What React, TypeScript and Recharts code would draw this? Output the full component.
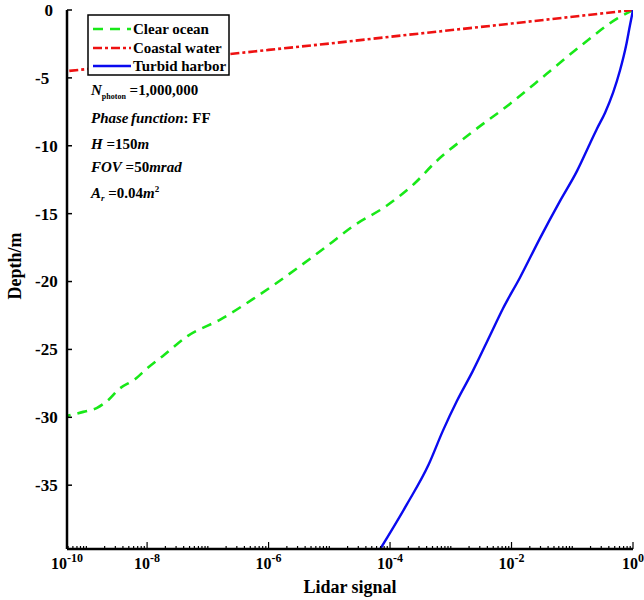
import React from "react";
import { LineChart, Line, XAxis, YAxis } from "recharts";

// depth (m) vs lidar signal
const clearDepth = [0, -0.6, -2.5, -4.7, -6.9, -9.1, -11.2, -12.8, -14.4, -15.9, -17.4, -19.0, -21.3, -22.8, -24.0, -25.5, -26.4, -27.2, -27.9, -28.8, -29.3, -29.6, -29.9];
const clearSignal = [1, 0.562, 0.151, 0.038, 9.5e-3, 2.1e-3, 5.6e-4, 2.5e-4, 8.9e-5, 2.5e-5, 9.1e-6, 3.0e-6, 5.5e-7, 1.6e-7, 4.7e-8, 1.8e-8, 1.0e-8, 6.3e-9, 3.5e-9, 2.2e-9, 1.5e-9, 8.9e-10, 4.8e-10];

const coastalDepth = [0, -1.0, -1.97, -2.47, -2.94, -3.9, -4.5];
const coastalSignal = [1, 1e-2, 1e-4, 1.0e-5, 1e-6, 1e-8, 4.8e-10];

const turbidDepth = [0, -1.14, -2.62, -4.46, -6.09, -7.56, -8.75, -9.85, -11.85, -14.06, -16.8, -19.7, -22.0, -23.9, -26.6, -28.8, -31.0, -33.5, -36.4, -39.7];
const turbidSignal = [1, 0.89, 0.77, 0.61, 0.47, 0.347, 0.255, 0.195, 0.12, 0.063, 0.0295, 0.0138, 7.2e-3, 4.5e-3, 2.3e-3, 1.26e-3, 7.4e-4, 4.3e-4, 1.9e-4, 6.9e-5];

const xMajor = [4.8e-10, 1e-8, 1e-6, 1e-4, 1e-2, 1];
const xLabels = ["-10", "-8", "-6", "-4", "-2", "0"];
const yTicks = [0, -5, -10, -15, -20, -25, -30, -35];

const X_MIN = 4.8e-10;
const Y_MIN = -39.7;
const FONT = '"Liberation Serif", "Times New Roman", serif';

const series = [
  { name: "Clear ocean", color: "#18e818", dash: "10 7", width: 2.6, curve: "monotone", depth: clearDepth, signal: clearSignal },
  { name: "Coastal water", color: "#ee1111", dash: "9 3 3 3", width: 2.6, curve: "linear", depth: coastalDepth, signal: coastalSignal },
  { name: "Turbid harbor", color: "#0a0aef", dash: undefined, width: 2.4, curve: "monotone", depth: turbidDepth, signal: turbidSignal },
];

const xMinor: number[] = [];
for (let k = -10; k < 0; k++) {
  for (let m = 1; m < 10; m++) {
    const v = m * Math.pow(10, k);
    if (v > X_MIN && !xMajor.includes(v)) xMinor.push(v);
  }
}
const xTicks = [...xMajor, ...xMinor].sort((a, b) => a - b);

const BottomTick = (props: any) => {
  const { x, y, payload } = props;
  const idx = xMajor.indexOf(payload.value);
  const major = idx >= 0;
  return (
    <g>
      <line x1={x} x2={x} y1={y} y2={y - (major ? 7 : 3)} stroke="#000" strokeWidth={1.2} />
      {major && (
        <text x={x} y={y + 20} textAnchor="middle" fontFamily={FONT} fontWeight="bold" fontSize={16} fill="#000">
          <tspan>10</tspan>
          <tspan dy={-7} fontSize={12}>{xLabels[idx]}</tspan>
        </text>
      )}
    </g>
  );
};

const TopTick = (props: any) => {
  const { x, y, payload } = props;
  const major = xMajor.includes(payload.value);
  return <line x1={x} x2={x} y1={y} y2={y + (major ? 6 : 3)} stroke="#000" strokeWidth={1.2} />;
};

const LeftTick = (props: any) => {
  const { x, y, payload } = props;
  const zero = payload.value === 0;
  return (
    <g>
      <line x1={x} x2={x + 5} y1={y} y2={y} stroke="#000" strokeWidth={1.5} />
      <text
        x={zero ? x - 14 : x - 32}
        y={y}
        dy="0.35em"
        textAnchor={zero ? "end" : "start"}
        fontFamily={FONT}
        fontWeight="bold"
        fontSize={17}
        fill="#000"
      >
        {payload.value}
      </text>
    </g>
  );
};

const RightTick = (props: any) => {
  const { x, y } = props;
  return <line x1={x} x2={x - 5} y1={y} y2={y} stroke="#000" strokeWidth={1.5} />;
};

function Overlay() {
  const rows = [29, 48, 66];
  return (
    <svg width={644} height={600} style={{ position: "absolute", left: 0, top: 0, pointerEvents: "none" }}>
      <rect x={88} y={15} width={141} height={60} fill="#fff" stroke="#000" strokeWidth={1.5} />
      {series.map((s, i) => (
        <g key={s.name}>
          <line x1={93} x2={131} y1={rows[i]} y2={rows[i]} stroke={s.color} strokeWidth={2.4} strokeDasharray={s.dash} />
          <text x={133} y={rows[i]} dy="0.35em" fontFamily={FONT} fontWeight="bold" fontSize={15} fill="#000">
            {s.name}
          </text>
        </g>
      ))}

      <g fontFamily={FONT} fontWeight="bold" fontSize={15} fill="#000">
        <text x={91} y={95}>
          <tspan fontStyle="italic">N</tspan>
          <tspan fontSize={8} dy={4}>photon</tspan>
          <tspan dy={-4}> =1,000,000</tspan>
        </text>
        <text x={91} y={123}>
          <tspan fontStyle="italic">Phase</tspan>
          <tspan fontStyle="italic" x={131}>function</tspan>
          <tspan>:  FF</tspan>
        </text>
        <text x={91} y={149}>
          <tspan fontStyle="italic">H</tspan>
          <tspan> =150</tspan>
          <tspan fontStyle="italic">m</tspan>
        </text>
        <text x={91} y={172}>
          <tspan fontStyle="italic">FOV</tspan>
          <tspan> =50</tspan>
          <tspan fontStyle="italic">mrad</tspan>
        </text>
        <text x={91} y={198}>
          <tspan fontStyle="italic">A</tspan>
          <tspan fontStyle="italic" fontSize={9} dy={3}>r</tspan>
          <tspan dy={-3}> =0.04</tspan>
          <tspan fontStyle="italic">m</tspan>
          <tspan fontSize={9} dy={-6}>2</tspan>
        </text>
      </g>

      <text
        x={15}
        y={266}
        transform="rotate(-90 15 266)"
        textAnchor="middle"
        dy="0.35em"
        fontFamily={FONT}
        fontWeight="bold"
        fontSize={18}
        fill="#000"
      >
        Depth/m
      </text>
      <text x={350} y={587} textAnchor="middle" dy="0.35em" fontFamily={FONT} fontWeight="bold" fontSize={18} fill="#000">
        Lidar signal
      </text>
    </svg>
  );
}

export default function App() {
  return (
    <div style={{ position: "absolute", left: 0, top: 0, width: 644, height: 600, background: "#fff" }}>
      <LineChart width={644} height={600} margin={{ top: 10, right: 11, bottom: 21, left: 7 }}>
        <XAxis
          dataKey="signal"
          type="number"
          scale="log"
          domain={[X_MIN, 1]}
          ticks={xTicks}
          interval={0}
          allowDataOverflow
          height={30}
          tickSize={0}
          tickMargin={0}
          tickLine={false}
          tick={(p: any) => <BottomTick {...p} />}
          axisLine={{ stroke: "#000", strokeWidth: 2.5 }}
        />
        <XAxis
          xAxisId="top"
          orientation="top"
          dataKey="signal"
          type="number"
          scale="log"
          domain={[X_MIN, 1]}
          ticks={xTicks}
          interval={0}
          allowDataOverflow
          height={0}
          tickSize={0}
          tickMargin={0}
          tickLine={false}
          tick={(p: any) => <TopTick {...p} />}
          axisLine={{ stroke: "#000", strokeWidth: 2 }}
        />
        <YAxis
          type="number"
          domain={[Y_MIN, 0]}
          ticks={yTicks}
          interval={0}
          allowDataOverflow
          width={60}
          tickSize={0}
          tickMargin={0}
          tickLine={false}
          tick={(p: any) => <LeftTick {...p} />}
          axisLine={{ stroke: "#000", strokeWidth: 2.5 }}
        />
        <YAxis
          yAxisId="right"
          orientation="right"
          type="number"
          domain={[Y_MIN, 0]}
          ticks={yTicks}
          interval={0}
          allowDataOverflow
          width={0}
          tickSize={0}
          tickMargin={0}
          tickLine={false}
          tick={(p: any) => <RightTick {...p} />}
          axisLine={{ stroke: "#000", strokeWidth: 2 }}
        />
        {series.map((s) => (
          <Line
            key={s.name}
            name={s.name}
            data={s.depth.map((d, i) => ({ signal: s.signal[i], depth: d }))}
            dataKey="depth"
            type={s.curve as any}
            stroke={s.color}
            strokeWidth={s.width}
            strokeDasharray={s.dash}
            dot={false}
            activeDot={false}
            isAnimationActive={false}
          />
        ))}
      </LineChart>
      <Overlay />
    </div>
  );
}
